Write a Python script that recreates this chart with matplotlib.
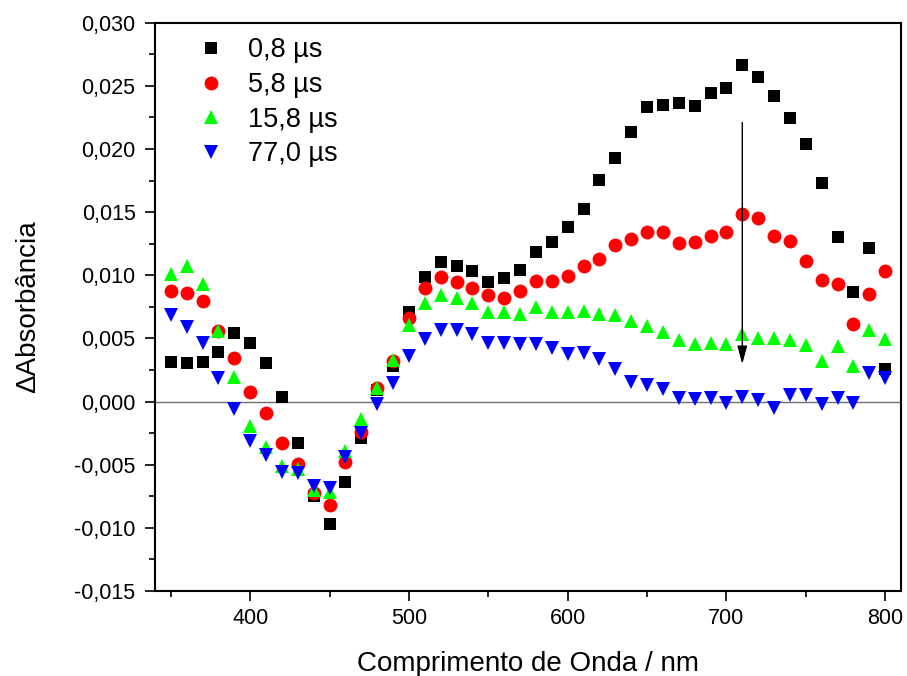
import matplotlib
matplotlib.use("Agg")

import matplotlib.pyplot as plt
from matplotlib.ticker import MultipleLocator, FuncFormatter
import numpy as np

plt.rcParams["font.family"] = ["Liberation Sans", "DejaVu Sans"]

# -- data (x1e-3 absorbance) ----------------------------------------------
wavelength = list(range(350, 801, 10))

abs_0_8 = [3.17, 3.04, 3.10, 3.94, 5.40, 4.63, 3.04, 0.37, -3.25, -7.48,
           -9.73, -6.37, -2.91, 0.95, 2.83, 7.12, 9.84, 11.03, 10.77, 10.32,
           9.44, 9.79, 10.43, 11.88, 12.62, 13.79, 15.27, 17.52, 19.32, 21.35,
           23.31, 23.49, 23.63, 23.44, 24.42, 24.84, 26.67, 25.67, 24.21, 22.44,
           20.40, 17.28, 13.05, 8.71, 12.20, 2.62]
abs_5_8 = [8.73, 8.57, 7.94, 5.61, 3.44, 0.72, -0.87, -3.25, -4.92, -7.22,
           -8.15, -4.79, -2.40, 1.06, 3.23, 6.62, 9.00, 9.84, 9.50, 9.00,
           8.47, 8.17, 8.79, 9.52, 9.58, 9.98, 10.74, 11.33, 12.41, 12.86,
           13.41, 13.44, 12.52, 12.65, 13.15, 13.41, 14.87, 14.50, 13.15, 12.73,
           11.14, 9.63, 9.32, 6.14, 8.55, 10.32]
abs_15_8 = [10.08, 10.74, 9.34, 5.61, 1.93, -1.93, -3.60, -5.13, -5.34, -7.03,
            -7.14, -3.89, -1.37, 1.09, 3.31, 6.06, 7.83, 8.41, 8.20, 7.83,
            7.11, 7.07, 6.90, 7.46, 7.12, 7.10, 7.17, 6.94, 6.86, 6.38,
            5.95, 5.52, 4.87, 4.53, 4.63, 4.58, 5.37, 5.06, 5.06, 4.84,
            4.47, 3.20, 4.42, 2.83, 5.69, 4.92]
abs_77_0 = [6.85, 5.93, 4.66, 1.88, -0.55, -3.09, -4.20, -5.58, -5.66, -6.72,
            -6.85, -4.36, -2.48, -0.18, 1.48, 3.60, 4.95, 5.68, 5.68, 5.37,
            4.63, 4.66, 4.53, 4.53, 4.26, 3.73, 3.81, 3.41, 2.62, 1.56,
            1.30, 1.03, 0.29, 0.19, 0.29, -0.08, 0.35, 0.13, -0.53, 0.53,
            0.50, -0.16, 0.29, -0.08, 2.28, 1.83]

labels = ["0,8 \u00b5s", "5,8 \u00b5s", "15,8 \u00b5s", "77,0 \u00b5s"]
arrow_x = 710
arrow_from = 0.0221
arrow_to = 0.00297

# -- figure --------------------------------------------------------------
fig = plt.figure(figsize=(9.07, 6.76), dpi=100)
ax = fig.add_axes([0.1709, 0.1257, 0.8225, 0.8407])

x = np.array(wavelength)
series = [
    (abs_0_8, "s", "#000000", 8.8),
    (abs_5_8, "o", "#ff0000", 10.0),
    (abs_15_8, "^", "#00ff00", 10.3),
    (abs_77_0, "v", "#0000ff", 10.3),
]
for (vals, mk, col, ms), lab in zip(series, labels):
    ax.plot(x, np.array(vals) / 1000, linestyle="none", marker=mk, color=col,
            markersize=ms, markeredgewidth=0, label=lab)

ax.axhline(0, color="#6e6e6e", linewidth=1.0, zorder=1)

ax.annotate("", xy=(arrow_x, arrow_to), xytext=(arrow_x, arrow_from),
            arrowprops=dict(arrowstyle="-|>,head_length=0.55,head_width=0.15",
                            mutation_scale=20, lw=1.0, color="black",
                            shrinkA=0, shrinkB=0))

ax.set_xlim(340, 810)
ax.set_ylim(-0.015, 0.030)
ax.xaxis.set_major_locator(MultipleLocator(100))
ax.xaxis.set_minor_locator(MultipleLocator(50))
ax.yaxis.set_major_locator(MultipleLocator(0.005))
ax.yaxis.set_minor_locator(MultipleLocator(0.0025))
ax.yaxis.set_major_formatter(FuncFormatter(
    lambda v, p: f"{v:.3f}".replace(".", ",").replace("-0,000", "0,000")))

ax.tick_params(axis="both", which="major", direction="out", length=7, width=1.2,
               labelsize=15.5, pad=5)
ax.tick_params(axis="both", which="minor", direction="out", length=4, width=1.2)
ax.tick_params(axis="y", which="major", pad=7)
for spine in ax.spines.values():
    spine.set_linewidth(1.5)

ax.set_xlabel("Comprimento de Onda / nm", fontsize=20, labelpad=16)
ax.set_ylabel("\u0394Absorb\u00e2ncia", fontsize=20, labelpad=24)

ax.legend(loc="upper left", bbox_to_anchor=(0.0563, 0.974), frameon=False,
          fontsize=19.5, handlelength=1.0, handletextpad=0.89, labelspacing=0.32,
          borderaxespad=0, borderpad=0, numpoints=1)

fig.savefig("out.png", dpi=100)
plt.close(fig)
